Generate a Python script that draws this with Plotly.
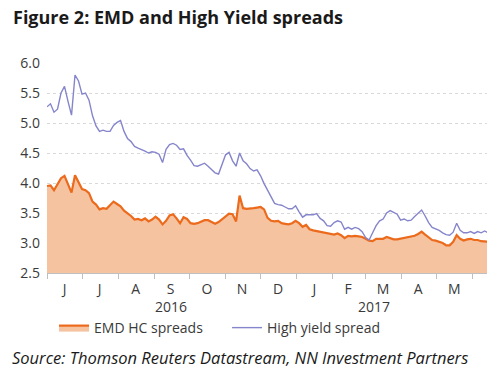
import pandas as pd
import plotly.graph_objects as go

# ---- data ----
dates = pd.date_range("2016-06-01", periods=127, freq="3D")

emd_hc = [3.95, 3.96, 3.88, 3.97, 4.08, 4.12, 3.98, 3.84, 4.13, 4.00,
          3.90, 3.88, 3.83, 3.69, 3.64, 3.56, 3.58, 3.57, 3.63, 3.69,
          3.65, 3.61, 3.54, 3.50, 3.45, 3.39, 3.40, 3.38, 3.41, 3.36,
          3.39, 3.44, 3.39, 3.31, 3.37, 3.46, 3.48, 3.41, 3.33, 3.43,
          3.40, 3.33, 3.32, 3.33, 3.35, 3.38, 3.38, 3.35, 3.32, 3.35,
          3.40, 3.45, 3.49, 3.48, 3.36, 3.79, 3.58, 3.57, 3.57, 3.58,
          3.59, 3.60, 3.56, 3.42, 3.37, 3.36, 3.37, 3.33, 3.32, 3.31,
          3.33, 3.37, 3.33, 3.27, 3.30, 3.23, 3.21, 3.20, 3.18, 3.18,
          3.16, 3.16, 3.14, 3.16, 3.13, 3.08, 3.12, 3.11, 3.12, 3.11,
          3.10, 3.07, 3.04, 3.03, 3.07, 3.07, 3.07, 3.10, 3.08, 3.06,
          3.06, 3.07, 3.09, 3.10, 3.10, 3.12, 3.15, 3.19, 3.14, 3.10,
          3.05, 3.04, 3.02, 3.00, 2.96, 2.96, 3.02, 3.13, 3.07, 3.04,
          3.06, 3.07, 3.05, 3.05, 3.03, 3.02, 3.02]

high_yield = [5.27, 5.32, 5.18, 5.23, 5.50, 5.61, 5.36, 5.13, 5.80, 5.70,
              5.48, 5.50, 5.38, 5.12, 4.95, 4.86, 4.88, 4.86, 4.86, 4.96,
              5.01, 5.04, 4.86, 4.74, 4.69, 4.61, 4.58, 4.56, 4.53, 4.50,
              4.52, 4.51, 4.48, 4.34, 4.56, 4.64, 4.66, 4.63, 4.56, 4.57,
              4.46, 4.38, 4.29, 4.28, 4.30, 4.33, 4.28, 4.23, 4.17, 4.15,
              4.30, 4.47, 4.51, 4.37, 4.28, 4.50, 4.37, 4.32, 4.24, 4.20,
              4.22, 4.12, 3.99, 3.88, 3.75, 3.66, 3.64, 3.63, 3.60, 3.57,
              3.57, 3.62, 3.52, 3.43, 3.47, 3.47, 3.47, 3.49, 3.41, 3.37,
              3.29, 3.28, 3.34, 3.37, 3.35, 3.23, 3.26, 3.23, 3.26, 3.24,
              3.19, 3.09, 3.05, 3.17, 3.29, 3.37, 3.40, 3.50, 3.54, 3.51,
              3.48, 3.38, 3.40, 3.37, 3.38, 3.44, 3.50, 3.55, 3.45, 3.34,
              3.26, 3.24, 3.21, 3.17, 3.14, 3.13, 3.18, 3.33, 3.21, 3.17,
              3.17, 3.19, 3.16, 3.19, 3.17, 3.20, 3.17]

month_starts = ["2016-06-01", "2016-07-01", "2016-08-01", "2016-09-01",
                "2016-10-01", "2016-11-01", "2016-12-01", "2017-01-01",
                "2017-02-01", "2017-03-01", "2017-04-01", "2017-05-01",
                "2017-06-01"]
month_mids = ["2016-06-16", "2016-07-16", "2016-08-16", "2016-09-15",
              "2016-10-16", "2016-11-15", "2016-12-16", "2017-01-16",
              "2017-02-14", "2017-03-16", "2017-04-15", "2017-05-16"]
month_labels = ["J", "J", "A", "S", "O", "N", "D", "J", "F", "M", "A", "M"]
year_mids = ["2016-09-15", "2017-03-08"]
year_labels = ["2016", "2017"]
y_ticks = [2.5, 3.0, 3.5, 4.0, 4.5, 5.0, 5.5, 6.0]

ORANGE = "#EC6A1C"
FILL = "#F6C3A0"
PURPLE = "#8585CC"
TXT = "#3a3a3a"
FONT = "Open Sans"

x_range = ["2016-06-01", "2017-06-13"]

fig = go.Figure()
fig.add_trace(go.Scatter(
    x=dates, y=emd_hc, name="EMD HC spreads", mode="lines",
    line=dict(color=ORANGE, width=2.2), fill="tozeroy", fillcolor=FILL))
fig.add_trace(go.Scatter(
    x=dates, y=high_yield, name="High yield spread", mode="lines",
    line=dict(color=PURPLE, width=1.4)))
# invisible trace to carry the month-letter axis
fig.add_trace(go.Scatter(x=[dates[0]], y=[3], xaxis="x2", mode="markers",
                         marker=dict(opacity=0), showlegend=False,
                         hoverinfo="skip"))

for xm, lab in zip(year_mids, year_labels):
    fig.add_annotation(x=xm, y=-0.16, xref="x", yref="paper", text=lab,
                       showarrow=False, yanchor="middle",
                       font=dict(family=FONT, size=14, color=TXT))

fig.add_annotation(x=0, y=1, xref="paper", yref="paper", xshift=-47 + 11,
                   yshift=63 - 17, text="<b>Figure 2: EMD and High Yield spreads</b>",
                   showarrow=False, xanchor="left", yanchor="middle",
                   font=dict(family=FONT, size=18, color="#1a1a1a"))
fig.add_annotation(x=0, y=0, xref="paper", yref="paper", xshift=-47 + 10,
                   yshift=273 - 357,
                   text="<i>Source: Thomson Reuters Datastream, NN Investment Partners</i>",
                   showarrow=False, xanchor="left", yanchor="middle",
                   font=dict(family=FONT, size=16.5, color="#1a1a1a"))

fig.update_layout(
    width=500, height=372,
    margin=dict(l=47, r=13, t=63, b=99),
    paper_bgcolor="white", plot_bgcolor="white",
    font=dict(family=FONT, size=14, color=TXT),
    showlegend=True,
    legend=dict(orientation="h", x=0.016, y=-0.262, xanchor="left",
                yanchor="middle", font=dict(family=FONT, size=14, color=TXT),
                entrywidth=128, tracegroupgap=0, bgcolor="rgba(0,0,0,0)"),
    xaxis=dict(type="date", range=x_range, tickvals=month_starts,
               showticklabels=False, ticks="outside", ticklen=5,
               tickcolor="#bfbfbf", showgrid=False, showline=True,
               linecolor="#bfbfbf", linewidth=1, zeroline=False),
    xaxis2=dict(type="date", range=x_range, overlaying="x", side="bottom",
                tickvals=month_mids, ticktext=month_labels, ticks="",
                ticklabelstandoff=6,
                showgrid=False, showline=False, zeroline=False,
                tickfont=dict(family=FONT, size=14, color=TXT)),
    yaxis=dict(range=[2.5, 6.0], tickvals=y_ticks, tickformat=".1f",
               showgrid=True, gridcolor="#d9d9d9", griddash="dot",
               gridwidth=1, zeroline=False, showline=False,
               ticks="", ticklabelstandoff=6,
               tickfont=dict(family=FONT, size=14, color=TXT)),
)

fig.write_html("out.html", config={"displayModeBar": False},
               post_script="document.body.style.margin='0';document.body.style.padding='0';")
